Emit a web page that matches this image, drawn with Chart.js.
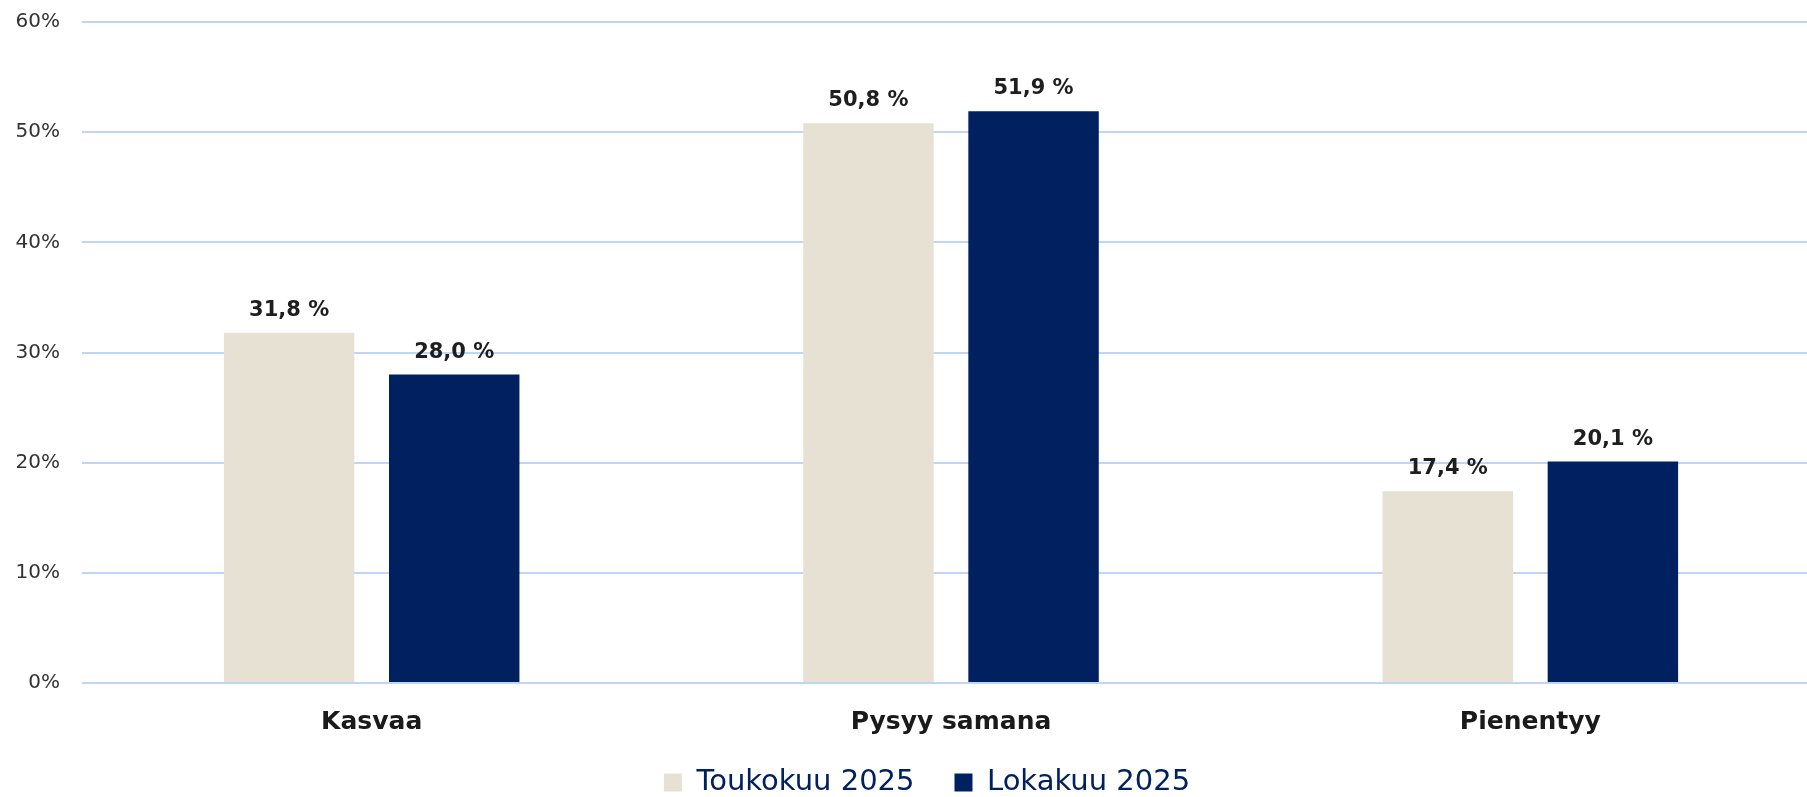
<!DOCTYPE html>
<html>
<head>
<meta charset="utf-8">
<script src="https://cdn.jsdelivr.net/npm/chart.js@4/dist/chart.umd.min.js"></script>
<style>
  html, body { margin: 0; padding: 0; background: #ffffff; overflow: hidden; }
  #wrap { position: relative; width: 1820px; height: 797px; }
</style>
</head>
<body>
<div id="wrap"><canvas id="c"></canvas></div>
<script>
const categories = ['Kasvaa', 'Pysyy samana', 'Pienentyy'];
const seriesNames = ['Toukokuu 2025', 'Lokakuu 2025'];
const toukokuu2025 = [31.8, 50.8, 17.4];
const lokakuu2025 = [28.0, 51.9, 20.1];
const yMin = 0, yMax = 60, yStep = 10;

const BEIGE = '#e7e1d4';
const NAVY = '#002060';

const valueLabels = {
  id: 'valueLabels',
  afterDatasetsDraw(chart) {
    const ctx = chart.ctx;
    ctx.save();
    ctx.font = 'bold 21px "DejaVu Sans"';
    ctx.fillStyle = '#1e1e1e';
    ctx.textAlign = 'center';
    ctx.textBaseline = 'alphabetic';
    chart.data.datasets.forEach((ds, di) => {
      const meta = chart.getDatasetMeta(di);
      meta.data.forEach((bar, i) => {
        const txt = ds.data[i].toFixed(1).replace('.', ',') + ' %';
        ctx.fillText(txt, bar.x, bar.y - 17);
      });
    });
    ctx.restore();
  }
};

// fine layout adjustments: legend offset and room for category labels
const layoutTweaks = {
  id: 'layoutTweaks',
  afterLayout(chart) {
    const lg = chart.legend;
    if (lg) { lg.top += 10; lg.bottom += 10; lg.left += 34; }
    const xs = chart.scales.x;
    xs.bottom = xs.top + 70;
  }
};

new Chart(document.getElementById('c'), {
  type: 'bar',
  data: {
    labels: categories,
    datasets: [
      { label: seriesNames[0], data: toukokuu2025, backgroundColor: BEIGE, borderWidth: 0 },
      { label: seriesNames[1], data: lokakuu2025, backgroundColor: NAVY, borderWidth: 0 }
    ]
  },
  options: {
    responsive: true,
    maintainAspectRatio: false,
    animation: false,
    datasets: { bar: { categoryPercentage: 0.57, barPercentage: 0.79 } },
    layout: { padding: { top: 22, left: 0, right: 0, bottom: 0 } },
    plugins: {
      tooltip: { enabled: false },
      legend: {
        position: 'bottom',
        labels: {
          boxWidth: 18,
          boxHeight: 18,
          padding: 40,
          color: NAVY,
          font: { family: '"DejaVu Sans"', size: 29 }
        }
      }
    },
    scales: {
      x: {
        grid: { display: false, drawTicks: false },
        border: { display: false },
        ticks: {
          padding: 24,
          color: '#1a1a1a',
          font: { family: '"DejaVu Sans"', size: 25, weight: 'bold' }
        },
        afterFit(scale) { scale.height = 35; }
      },
      y: {
        min: yMin,
        max: yMax,
        grid: { color: '#bfd5f5', lineWidth: 2, drawTicks: false },
        border: { display: false },
        ticks: {
          stepSize: yStep,
          padding: 22,
          color: '#333333',
          font: { family: '"DejaVu Sans"', size: 20 },
          callback: (v) => v + '%'
        },
        afterFit(scale) { scale.width = 82; scale.paddingTop = 0; scale.paddingBottom = 0; }
      }
    }
  },
  plugins: [valueLabels, layoutTweaks]
});
</script>
</body>
</html>
